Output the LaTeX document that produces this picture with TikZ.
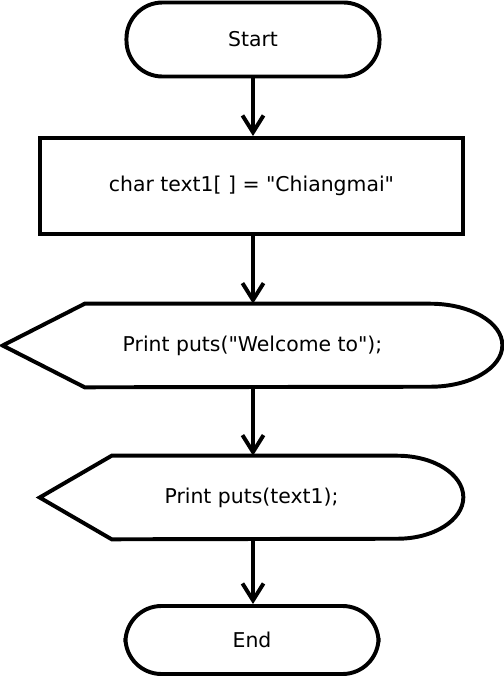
\documentclass[tikz,border=0pt]{standalone}
\usepackage{fontspec}
\setmainfont{DejaVu Sans}[Ligatures=TeXOff]
\usetikzlibrary{arrows.meta}

\tikzset{
  linie/.style={line width=2.8pt},
  pfeil/.style={linie,-{Straight Barb[length=12pt,width=15pt,line width=2.8pt]}},
  terminal/.style={linie,draw,rounded corners=0.9cm,minimum width=6.325cm,minimum height=1.85cm,font=\fontsize{14.5}{17}\selectfont},
  prozess/.style={linie,draw,minimum width=10.575cm,minimum height=2.4cm,font=\fontsize{14.5}{17}\selectfont},
  anzeige/.style={inner sep=0pt,font=\fontsize{14.5}{17}\selectfont}
}

\begin{document}
\begin{tikzpicture}[x=0.025cm,y=-0.025cm]
		\useasboundingbox (0,0) rectangle (504,680);
		% Start und Ende
		\node[terminal] (start) at (253,39.5) {Start};
		\node[terminal,minimum height=1.7cm] (ende) at (252,640) {End};
		
		% Zuweisung
		\node[prozess] (zuweisung) at (251.5,186) {char text1[ ] = "Chiangmai"};
		
		% Ausgaben (Text und Umriss)
		\node[anzeige,minimum width=12.475cm,minimum height=2.075cm] (ausgabeA) at (252.5,345.5) {Print puts("Welcome to");};
		\node[anzeige,minimum width=10.575cm,minimum height=2.075cm] (ausgabeB) at (251.5,497.5) {Print puts(text1);};
		\draw[linie] (ausgabeA.west) -- ([xshift=2.05cm]ausgabeA.north west) -- ([xshift=-1.8cm]ausgabeA.north east)
			arc[start angle=90,end angle=-90,x radius=1.8cm,y radius=1.0375cm] -- ([xshift=2.05cm]ausgabeA.south west) -- cycle;
		\draw[linie] (ausgabeB.west) -- ([xshift=1.8cm]ausgabeB.north west) -- ([xshift=-1.65cm]ausgabeB.north east)
			arc[start angle=90,end angle=-90,x radius=1.65cm,y radius=1.0375cm] -- ([xshift=1.8cm]ausgabeB.south west) -- cycle;
		
		% Verbindungen
		\draw[pfeil] (start) -- (start |- zuweisung.north);
		\draw[pfeil] (start |- zuweisung.south) -- (start |- ausgabeA.north);
		\draw[pfeil] (start |- ausgabeA.south) -- (start |- ausgabeB.north);
		\draw[pfeil] (start |- ausgabeB.south) -- (start |- ende.north);
	\end{tikzpicture}
\end{document}
